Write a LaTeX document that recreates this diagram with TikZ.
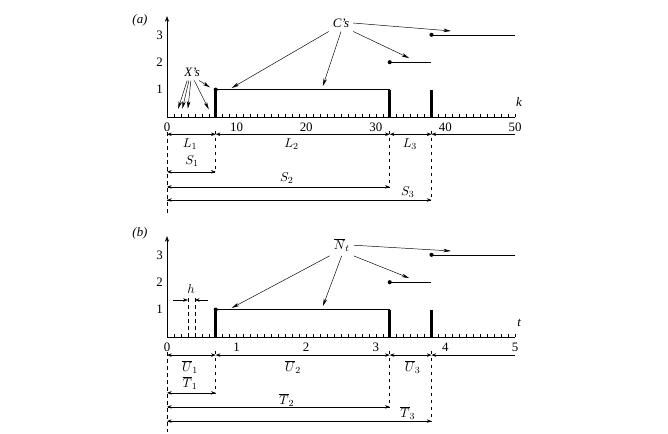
\documentclass[tikz,border=0pt]{standalone}
\usepackage{fontspec}
\setmainfont{Liberation Serif}
\usetikzlibrary{arrows.meta}

\tikzset{
  dimline/.style={{Stealth[length=4pt,width=3pt]}-{Stealth[length=4pt,width=3pt]},line width=0.5pt},
  halfdim/.style={{Stealth[length=4pt,width=3pt]}-,line width=0.5pt},
  onedim/.style={-{Stealth[length=4pt,width=3pt]},line width=0.5pt},
  pointer/.style={-{Stealth[length=6.5pt,width=3pt]},line width=0.4pt},
  guide/.style={dashed,line width=0.5pt},
  jump/.style={line width=2.2pt},
  dot/.style={circle,fill,inner sep=0pt,minimum size=3.5pt},
}

\begin{document}
\begin{tikzpicture}[>=Stealth,line join=round,line cap=butt,font=\fontsize{11}{13}\selectfont]
\useasboundingbox (0,0) rectangle (20.04,-12.99);
% panel (a): the counting in k
\node (taga) at (4.2,-0.6) {\textit{(a)}};
\begin{scope}[shift={(5.01,-3.51)},x=0.2088cm,y=0.822cm]
	\coordinate (a0) at (0,0);
	\coordinate (a7) at (7,0);
	\coordinate (a32) at (32,0);
	\coordinate (a38) at (38,0);
	\coordinate (a50) at (50,0);
	\coordinate (atop) at (0,3.68);
	\draw[->] (a0) -- (atop);
	\draw (a0) -- (a50);
	\foreach \i in {1,...,50} \draw (\i,0) -- (\i,0.11);
	\foreach \i in {0,10,...,50} \node (ka\i) at (\i,-0.38) {\i};
	\foreach \j in {1,2,3} \node[left] (ya\j) at (0,\j) {\j};
	\node (klab) at (50.6,0.55) {\textit{k}};
	% the path
	\coordinate (p1) at (7,1);
	\coordinate (p2) at (32,1);
	\coordinate (q1) at (32,2);
	\coordinate (q2) at (38,2);
	\coordinate (s1) at (38,3);
	\coordinate (s2) at (50,3);
	\coordinate (b1) at (38,1);
	\draw[jump] (a7) -- (p1);
	\draw[jump] (a32) -- (p2);
	\draw[jump] (a38) -- (b1);
	\draw (p1) -- (p2);
	\draw (q1) -- (q2);
	\draw (s1) -- (s2);
	\node[dot] (da1) at (p1) {};
	\node[dot] (da2) at (q1) {};
	\node[dot] (da3) at (s1) {};
	% labels with pointers
	\node (Cs) at (25,3.43) {\textit{C's}};
	\draw[pointer] (Cs.south west) -- (9.3,1.06);
	\draw[pointer] (Cs.south) -- (22.4,1.13);
	\draw[pointer] (Cs.south east) -- (34.8,2.15);
	\draw[pointer] (Cs.east) -- (40.8,3.14);
	\node (Xs) at (3.6,1.64) {\textit{X's}};
	\draw[pointer] (Xs.240) -- (1.6,0.3);
	\draw[pointer] (Xs.250) -- (2.2,0.3);
	\draw[pointer] (Xs.262) -- (3.0,0.3);
	\draw[pointer] (Xs.285) -- (6.0,0.28);
	\draw[pointer] (Xs.310) -- (6.2,1.08);
	% lengths and sums
	\coordinate (rL) at (0,-0.63);
	\coordinate (rS1) at (0,-2.0);
	\coordinate (rS2) at (0,-2.55);
	\coordinate (rS3) at (0,-3.03);
	\draw[guide] (0,-0.55) -- (0,-3.58);
	\draw[guide] (7,-0.5) |- (rS1);
	\draw[guide] (32,-0.5) |- (rS2);
	\draw[guide] (38,-0.5) |- (rS3);
	\draw[dimline] (a0 |- rL) -- (a7 |- rL);
	\draw[dimline] (a7 |- rL) -- (a32 |- rL);
	\draw[dimline] (a32 |- rL) -- (a38 |- rL);
	\draw[halfdim] (a38 |- rL) -- (a50 |- rL);
	\draw[dimline] (a0 |- rS1) -- (a7 |- rS1);
	\draw[dimline] (a0 |- rS2) -- (a32 |- rS2);
	\draw[dimline] (a0 |- rS3) -- (a38 |- rS3);
	\node (L1) at (3.3,-0.98) {$L_1$};
	\node (L2) at (17.9,-0.98) {$L_2$};
	\node (L3) at (34.9,-0.98) {$L_3$};
	\node (S1) at (3.6,-1.6) {$S_1$};
	\node (S2) at (17.2,-2.23) {$S_2$};
	\node (S3) at (34.6,-2.74) {$S_3$};
\end{scope}
% panel (b): the same in t
\node (tagb) at (4.2,-6.99) {\textit{(b)}};
\begin{scope}[shift={(5.01,-10.11)},x=2.088cm,y=0.822cm]
	\coordinate (b0) at (0,0);
	\coordinate (b7) at (0.7,0);
	\coordinate (b32) at (3.2,0);
	\coordinate (b38) at (3.8,0);
	\coordinate (b50) at (5,0);
	\coordinate (btop) at (0,3.68);
	\draw[->] (b0) -- (btop);
	\draw (b0) -- (b50);
	\foreach \i in {1,...,50} \draw (\i/10,0) -- (\i/10,0.11);
	\foreach \i in {0,...,5} \node (tb\i) at (\i,-0.38) {\i};
	\foreach \j in {1,2,3} \node[left] (yb\j) at (0,\j) {\j};
	\node (tlab) at (5.06,0.51) {\textit{t}};
	% the path
	\coordinate (u1) at (0.7,1);
	\coordinate (u2) at (3.2,1);
	\coordinate (v1) at (3.2,2);
	\coordinate (v2) at (3.8,2);
	\coordinate (w1) at (3.8,3);
	\coordinate (w2) at (5,3);
	\coordinate (c1) at (3.8,1);
	\draw[jump] (b7) -- (u1);
	\draw[jump] (b32) -- (u2);
	\draw[jump] (b38) -- (c1);
	\draw (u1) -- (u2);
	\draw (v1) -- (v2);
	\draw (w1) -- (w2);
	\node[dot] (db1) at (u1) {};
	\node[dot] (db2) at (v1) {};
	\node[dot] (db3) at (w1) {};
	% labels with pointers
	\node (Nt) at (2.51,3.35) {$\overline{N}_t$};
	\draw[pointer] (Nt.south west) -- (0.93,1.06);
	\draw[pointer] (Nt.south) -- (2.24,1.13);
	\draw[pointer] (Nt.south east) -- (3.48,2.15);
	\draw[pointer] (Nt.east) -- (4.08,3.14);
	% the step h
	\coordinate (h1) at (0.3,1.46);
	\coordinate (h2) at (0.4,1.46);
	\coordinate (hl) at (0.086,1.35);
	\coordinate (hr) at (0.59,1.35);
	\draw[guide] (0.3,0) -- (h1);
	\draw[guide] (0.4,0) -- (h2);
	\draw[onedim] (hl) -- (h1 |- hl);
	\draw[onedim] (hr) -- (h2 |- hr);
	\node (hlab) at (0.345,1.74) {$h$};
	% lengths and sums
	\coordinate (rU) at (0,-0.66);
	\coordinate (rT1) at (0,-2.04);
	\coordinate (rT2) at (0,-2.55);
	\coordinate (rT3) at (0,-3.07);
	\draw[guide] (0,-0.55) -- (0,-3.47);
	\draw[guide] (0.7,-0.5) |- (rT1);
	\draw[guide] (3.2,-0.5) |- (rT2);
	\draw[guide] (3.8,-0.5) |- (rT3);
	\draw[dimline] (b0 |- rU) -- (b7 |- rU);
	\draw[dimline] (b7 |- rU) -- (b32 |- rU);
	\draw[dimline] (b32 |- rU) -- (b38 |- rU);
	\draw[halfdim] (b38 |- rU) -- (b50 |- rU);
	\draw[dimline] (b0 |- rT1) -- (b7 |- rT1);
	\draw[dimline] (b0 |- rT2) -- (b32 |- rT2);
	\draw[dimline] (b0 |- rT3) -- (b38 |- rT3);
	\node (U1) at (0.33,-1.1) {$\overline{U}_1$};
	\node (U2) at (1.81,-1.1) {$\overline{U}_2$};
	\node (U3) at (3.53,-1.1) {$\overline{U}_3$};
	\node (T1) at (0.33,-1.68) {$\overline{T}_1$};
	\node (T2) at (1.72,-2.3) {$\overline{T}_2$};
	\node (T3) at (3.46,-2.77) {$\overline{T}_3$};
\end{scope}
\end{tikzpicture}
\end{document}
